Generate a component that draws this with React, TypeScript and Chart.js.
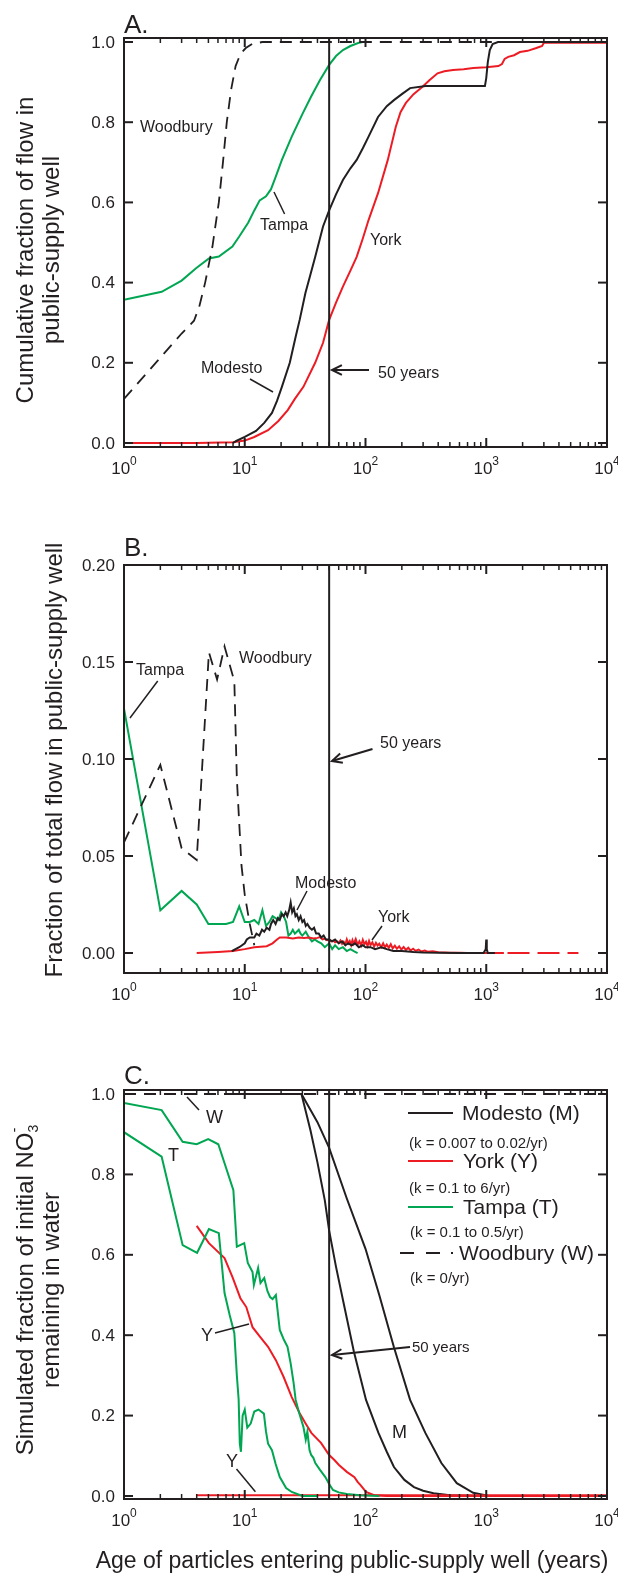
import React, { useEffect, useRef } from "react";
import { Chart, registerables } from "chart.js";
Chart.register(...registerables);

const FONT = '"Liberation Sans", Arial, Helvetica, sans-serif';
const INK = "#231f20";
const GREEN = "#00a651";
const RED = "#ed1c24";
const BLACK = "#231f20";

// ---- shared x axis ----
const xTickValues = [1, 10, 100, 1000, 10000];
const xTickExponents = ["0", "1", "2", "3", "4"];
const fiftyYears = 50;

// ---- Panel A: cumulative fraction ----
const yTicksA = [0, 0.2, 0.4, 0.6, 0.8, 1.0];
const yTickLabelsA = ["0.0", "0.2", "0.4", "0.6", "0.8", "1.0"];
const aWoodburyAge = [1, 1.5, 2, 2.5, 3, 3.8, 4.2, 4.7, 5.4, 6.1, 6.6, 7.1, 7.7, 8.4, 9.2, 10.2, 11.5, 14, 10000];
const aWoodburyVal = [0.11, 0.17, 0.213, 0.246, 0.273, 0.305, 0.34, 0.4, 0.49, 0.6, 0.7, 0.8, 0.88, 0.94, 0.97, 0.985, 0.995, 1.0, 1.0];
const aTampaAge = [1, 2.05, 3, 3.95, 5.05, 6.1, 7.9, 9, 10.7, 12, 13.3, 15, 16.5, 18.1, 20.3, 24.5, 30, 35.3, 42, 50, 57, 65, 75, 88, 95];
const aTampaVal = [0.357, 0.377, 0.405, 0.436, 0.46, 0.465, 0.49, 0.515, 0.55, 0.58, 0.605, 0.615, 0.633, 0.665, 0.706, 0.764, 0.82, 0.863, 0.905, 0.943, 0.965, 0.98, 0.99, 0.998, 1.0];
const aModestoAge = [8, 8.5, 10, 12.4, 14.5, 16.8, 18.5, 20.3, 23.6, 26.4, 28.5, 31.8, 35, 38.3, 44.5, 50, 57, 65, 75, 84.5, 95, 106, 127, 150, 172, 200, 234, 315, 500, 800, 975, 1000, 1030, 1070, 1130, 1250, 10000];
const aModestoVal = [0.0, 0.005, 0.015, 0.03, 0.05, 0.075, 0.105, 0.14, 0.2, 0.265, 0.307, 0.374, 0.42, 0.464, 0.54, 0.58, 0.62, 0.656, 0.685, 0.706, 0.735, 0.764, 0.813, 0.84, 0.855, 0.87, 0.885, 0.89, 0.89, 0.89, 0.89, 0.91, 0.95, 0.98, 0.995, 1.0, 1.0];
const aYorkAge = [1, 4, 8, 10, 12, 15.6, 19, 22.7, 26, 30.6, 38.3, 44.5, 50, 57, 65, 75, 84.5, 95, 106, 127, 153, 178, 195, 216, 250, 295, 340, 395, 450, 530, 650, 780, 1000, 1260, 1350, 1420, 1520, 1700, 1900, 2200, 2600, 2900, 3000, 10000];
const aYorkVal = [0, 0, 0.002, 0.006, 0.015, 0.032, 0.055, 0.082, 0.11, 0.14, 0.2, 0.25, 0.307, 0.35, 0.39, 0.43, 0.464, 0.51, 0.556, 0.623, 0.706, 0.788, 0.825, 0.848, 0.87, 0.888, 0.905, 0.922, 0.927, 0.93, 0.932, 0.935, 0.937, 0.94, 0.945, 0.958, 0.963, 0.967, 0.975, 0.978, 0.985, 0.99, 0.998, 0.998];

// ---- Panel B: fraction of total flow ----
const yTicksB = [0, 0.05, 0.1, 0.15, 0.2];
const yTickLabelsB = ["0.00", "0.05", "0.10", "0.15", "0.20"];
const bTampaAge = [1, 2, 3, 4, 5, 6, 7, 8, 9, 10, 11, 12, 13, 14, 15, 16, 17, 18, 19, 20, 21, 22, 23, 24, 25, 26, 27, 28, 29, 30, 32, 34, 36, 38, 40, 43, 46, 50, 53, 56, 60, 65, 70, 75, 80, 86];
const bTampaVal = [0.126, 0.022, 0.032, 0.025, 0.015, 0.015, 0.015, 0.016, 0.024, 0.016, 0.016, 0.017, 0.015, 0.022, 0.014, 0.016, 0.019, 0.018, 0.017, 0.021, 0.019, 0.016, 0.009, 0.010, 0.012, 0.010, 0.011, 0.012, 0.010, 0.009, 0.011, 0.008, 0.006, 0.007, 0.006, 0.005, 0.003, 0.005, 0.002, 0.004, 0.002, 0.003, 0.001, 0.002, 0.001, 0.0];
const bWoodburyAge = [1, 2, 3, 4, 5.05, 5.9, 6.8, 8.2, 8.6, 9.4, 10, 11, 12];
const bWoodburyVal = [0.057, 0.097, 0.054, 0.048, 0.155, 0.141, 0.158, 0.14, 0.09, 0.045, 0.03, 0.015, 0.004];
const bModestoAge = [7.8, 9, 10, 10.4, 11, 12, 12.5, 13.2, 13.9, 14.5, 15.2, 16, 16.5, 17.2, 18, 18.8, 19.5, 20.3, 21, 21.8, 22.5, 23.3, 24, 24.7, 25.5, 26.3, 27, 28, 29, 30, 31, 32, 33, 34.5, 36, 37.5, 39, 41, 43, 45, 47, 50, 53, 56, 60, 64, 68, 72, 77, 82, 88, 95, 100, 110, 120, 135, 150, 170, 200, 250, 300, 400, 600, 950, 990, 1000, 1010, 1030, 1180];
const bModestoVal = [0.001, 0.003, 0.005, 0.007, 0.008, 0.008, 0.010, 0.009, 0.012, 0.011, 0.013, 0.012, 0.015, 0.017, 0.015, 0.018, 0.017, 0.020, 0.019, 0.021, 0.019, 0.022, 0.026, 0.021, 0.023, 0.019, 0.020, 0.017, 0.019, 0.016, 0.017, 0.014, 0.015, 0.013, 0.012, 0.013, 0.010, 0.010, 0.008, 0.009, 0.007, 0.007, 0.006, 0.007, 0.005, 0.006, 0.004, 0.005, 0.004, 0.005, 0.003, 0.004, 0.003, 0.003, 0.002, 0.003, 0.002, 0.001, 0.001, 0.0005, 0.0003, 0.0002, 0.0, 0.0, 0.002, 0.007, 0.002, 0.0, 0.0];
const bYorkAge = [4, 6, 8, 10, 12, 15.2, 17, 18.5, 19.5, 22, 25, 28, 31, 34, 37,
  40, 42, 44, 46, 48, 50, 52, 54, 56, 58, 60, 62, 64, 66, 68, 70, 72, 74, 76, 78,
  80, 83, 86, 89, 92, 95, 98, 101, 104, 107, 110, 114, 118, 122, 126, 130, 135, 140, 145, 150,
  156, 162, 168, 175, 182, 190, 198, 207, 216, 226, 236, 248, 260, 275, 290, 310, 330, 360, 400, 450,
  500, 600, 700, 1400];
const bYorkVal = [0, 0.0005, 0.001, 0.002, 0.003, 0.0035, 0.005, 0.007, 0.008, 0.008, 0.0075, 0.008, 0.0078, 0.008, 0.0075,
  0.0078, 0.0082, 0.0070, 0.0074, 0.0066, 0.0068, 0.0060, 0.0064, 0.0055, 0.0060, 0.0052, 0.0065, 0.0047, 0.0058, 0.0044, 0.0070, 0.0050, 0.0062, 0.0041, 0.0066,
  0.0048, 0.0072, 0.0043, 0.0060, 0.0039, 0.0068, 0.0045, 0.0058, 0.0036, 0.0062, 0.0041, 0.0055, 0.0033, 0.0052, 0.0038, 0.0048, 0.0030, 0.0050, 0.0029, 0.0043,
  0.0027, 0.0045, 0.0024, 0.0038, 0.0022, 0.0034, 0.0018, 0.0031, 0.0016, 0.0027, 0.0013, 0.0022, 0.0011, 0.0018, 0.0008, 0.0013, 0.0006, 0.0009, 0.0004, 0.0003,
  0.0002, 0.0001, 0.0, 0.0];
const bYorkTailAge = [1500, 5800];
const bYorkTailVal = [0.0, 0.0];

// ---- Panel C: fraction of initial NO3 remaining ----
const yTicksC = [0, 0.2, 0.4, 0.6, 0.8, 1.0];
const yTickLabelsC = ["0.0", "0.2", "0.4", "0.6", "0.8", "1.0"];
const cWoodburyAge = [1, 10000];
const cWoodburyVal = [1.0, 1.0];
const cModestoFastAge = [8, 29.5, 35, 40, 46, 50, 57, 65, 80, 101, 128, 150, 172, 210, 252, 300, 366, 500, 780, 3000];
const cModestoFastVal = [1.0, 1.0, 0.91, 0.83, 0.736, 0.66, 0.57, 0.488, 0.36, 0.239, 0.157, 0.11, 0.072, 0.04, 0.022, 0.013, 0.007, 0.002, 0.0, 0.0];
const cModestoSlowAge = [8, 29.5, 40, 50, 70, 100, 130, 172, 234, 313, 425, 570, 780, 1050, 3000];
const cModestoSlowVal = [1.0, 1.0, 0.93, 0.866, 0.74, 0.615, 0.5, 0.37, 0.239, 0.157, 0.082, 0.032, 0.008, 0.0, 0.0];
const cTampaSlowAge = [1, 2.05, 3.06, 4, 4.98, 6.04, 8.05, 8.6, 9.9, 10.6, 11.6, 11.9, 12.9, 13.5, 14.5, 15.4, 16.2, 17, 18.1, 19.5, 21, 22.6, 24, 25.4, 26.4, 28, 30.6, 32, 33, 34.4, 35.5, 37, 38.4, 42, 46.5, 50, 53.8, 60, 70, 90, 130];
const cTampaSlowVal = [0.978, 0.96, 0.881, 0.875, 0.888, 0.875, 0.761, 0.62, 0.629, 0.58, 0.557, 0.525, 0.567, 0.53, 0.542, 0.51, 0.495, 0.49, 0.5, 0.413, 0.39, 0.371, 0.33, 0.281, 0.239, 0.21, 0.172, 0.14, 0.16, 0.114, 0.102, 0.095, 0.082, 0.065, 0.047, 0.03, 0.015, 0.009, 0.005, 0.002, 0.0];
const cTampaFastAge = [1, 2.05, 3.06, 4.03, 5.05, 6.1, 6.8, 7.5, 8.2, 8.6, 8.9, 9.1, 9.3, 9.6, 10, 10.5, 11.2, 12, 13, 14.4, 15, 15.6, 16.8, 18, 19.5, 22, 24.5, 30, 40];
const cTampaFastVal = [0.905, 0.844, 0.624, 0.605, 0.664, 0.654, 0.505, 0.45, 0.405, 0.3, 0.24, 0.13, 0.11, 0.2, 0.215, 0.17, 0.18, 0.21, 0.215, 0.205, 0.16, 0.13, 0.114, 0.08, 0.047, 0.02, 0.01, 0.0, 0.0];
const cYorkSlowAge = [4, 5.05, 6.8, 7.9, 9.2, 10.3, 11.6, 13.4, 15.6, 18.1, 21, 24.5, 28.5, 32, 35.6, 42.8, 50, 55, 60.3, 70, 81, 86, 91, 101, 118, 150, 10000];
const cYorkSlowVal = [0.672, 0.629, 0.592, 0.545, 0.492, 0.47, 0.42, 0.396, 0.371, 0.338, 0.296, 0.246, 0.206, 0.18, 0.157, 0.132, 0.102, 0.09, 0.077, 0.06, 0.047, 0.035, 0.027, 0.01, 0.002, 0.0, 0.0];
const cYorkFastAge = [4, 10000];
const cYorkFastVal = [0.002, 0.002];

const pts = (ages: number[], vals: number[]) => ages.map((x, i) => ({ x, y: vals[i] }));

const line = (label: string, ages: number[], vals: number[], color: string, dash: number[] = [], width = 2) => ({
  label,
  data: pts(ages, vals),
  borderColor: color,
  backgroundColor: color,
  borderWidth: width,
  borderDash: dash,
  pointRadius: 0,
  fill: false,
  tension: 0,
});

// ---- drawing helpers ----
function seg(ctx: any, x1: number, y1: number, x2: number, y2: number, w = 1.5) {
  ctx.save();
  ctx.strokeStyle = INK;
  ctx.lineWidth = w;
  ctx.beginPath();
  ctx.moveTo(x1, y1);
  ctx.lineTo(x2, y2);
  ctx.stroke();
  ctx.restore();
}
function txt(ctx: any, s: string, x: number, y: number, size: number, align = "left", base = "middle", color = INK) {
  ctx.save();
  ctx.fillStyle = color;
  ctx.font = `${size}px ${FONT}`;
  ctx.textAlign = align;
  ctx.textBaseline = base;
  ctx.fillText(s, x, y);
  ctx.restore();
}
function arrow(ctx: any, x1: number, y1: number, x2: number, y2: number) {
  seg(ctx, x1, y1, x2, y2, 2);
  const ang = Math.atan2(y2 - y1, x2 - x1);
  const L = 11, spread = 0.45;
  ctx.save();
  ctx.strokeStyle = INK;
  ctx.lineWidth = 2;
  ctx.beginPath();
  ctx.moveTo(x2 - L * Math.cos(ang - spread), y2 - L * Math.sin(ang - spread));
  ctx.lineTo(x2, y2);
  ctx.lineTo(x2 - L * Math.cos(ang + spread), y2 - L * Math.sin(ang + spread));
  ctx.stroke();
  ctx.restore();
}
type Part = { t: string; size: number; dy: number; stack?: boolean };
function rotRich(ctx: any, parts: Part[], x: number, yc: number) {
  ctx.save();
  ctx.translate(x, yc);
  ctx.rotate(-Math.PI / 2);
  ctx.fillStyle = INK;
  ctx.textAlign = "left";
  ctx.textBaseline = "alphabetic";
  let total = 0;
  const widths = parts.map((p) => {
    ctx.font = `${p.size}px ${FONT}`;
    return ctx.measureText(p.t).width;
  });
  parts.forEach((p, i) => { if (!p.stack) total += widths[i]; });
  let u = -total / 2;
  let lastU = u;
  parts.forEach((p, i) => {
    ctx.font = `${p.size}px ${FONT}`;
    if (p.stack) {
      ctx.fillText(p.t, lastU, p.dy);
    } else {
      ctx.fillText(p.t, u, p.dy);
      lastU = u;
      u += widths[i];
    }
  });
  ctx.restore();
}

function drawFrame(chart: any, yTicks: number[], yLabels: string[]) {
  const ctx = chart.ctx;
  const a = chart.chartArea;
  const xs = chart.scales.x;
  const ys = chart.scales.y;
  const x50 = xs.getPixelForValue(fiftyYears);
  seg(ctx, x50, a.top, x50, a.bottom, 2);
  ctx.save();
  ctx.strokeStyle = INK;
  ctx.lineWidth = 2;
  ctx.strokeRect(a.left, a.top, a.right - a.left, a.bottom - a.top);
  ctx.restore();
  for (let d = 0; d < 4; d++) {
    for (let m = 1; m <= 9; m++) {
      const v = m * Math.pow(10, d);
      const px = xs.getPixelForValue(v);
      const len = m === 1 ? 9 : 5;
      const w = m === 1 ? 2 : 1.5;
      seg(ctx, px, a.bottom, px, a.bottom - len, w);
      seg(ctx, px, a.top, px, a.top + len, w);
    }
  }
  xTickValues.forEach((v, i) => {
    const px = xs.getPixelForValue(v);
    ctx.save();
    ctx.font = `17px ${FONT}`;
    const w10 = ctx.measureText("10").width;
    ctx.font = `12px ${FONT}`;
    const we = ctx.measureText(xTickExponents[i]).width;
    ctx.restore();
    const start = px - (w10 + we) / 2;
    txt(ctx, "10", start, a.bottom + 27, 17, "left", "alphabetic");
    txt(ctx, xTickExponents[i], start + w10, a.bottom + 18, 12, "left", "alphabetic");
  });
  yTicks.forEach((v, i) => {
    const py = ys.getPixelForValue(v);
    seg(ctx, a.left, py, a.left + 9, py, 2);
    seg(ctx, a.right, py, a.right - 9, py, 2);
    txt(ctx, yLabels[i], a.left - 9, py + 1, 17, "right", "middle");
  });
}

type PanelProps = {
  top: number;
  height: number;
  plotTop: number;
  plotBottom: number;
  yMin: number;
  yMax: number;
  yTicks: number[];
  yLabels: string[];
  makeDatasets: () => any[];
  decorate: (ctx: any, chart: any) => void;
};

function Panel(props: PanelProps) {
  const ref = useRef<HTMLCanvasElement>(null);
  useEffect(() => {
    const canvas = ref.current as HTMLCanvasElement;
    const { top, height, plotTop, plotBottom } = props;
    const deco = {
      id: "deco",
      afterDraw(chart: any) {
        drawFrame(chart, props.yTicks, props.yLabels);
        const ctx = chart.ctx;
        ctx.save();
        ctx.translate(0, -top);
        props.decorate(ctx, chart);
        ctx.restore();
      },
    };
    const chart = new Chart(canvas, {
      type: "line",
      data: { datasets: props.makeDatasets() },
      options: {
        animation: false,
        responsive: false,
        maintainAspectRatio: false,
        devicePixelRatio: 1,
        events: [],
        layout: {
          padding: { left: 124, right: 618 - 607, top: plotTop - top, bottom: top + height - plotBottom },
        },
        scales: {
          x: { type: "logarithmic", min: 1, max: 10000, display: false },
          y: { type: "linear", min: props.yMin, max: props.yMax, display: false },
        },
        plugins: { legend: { display: false }, tooltip: { enabled: false } },
      },
      plugins: [deco],
    } as any);
    return () => chart.destroy();
  }, []);
  return (
    <canvas
      ref={ref}
      width={618}
      height={props.height}
      style={{ position: "absolute", left: 0, top: props.top, width: 618, height: props.height }}
    />
  );
}

const decoA = (ctx: any) => {
  txt(ctx, "A.", 124, 33, 26, "left", "alphabetic");
  rotRich(ctx, [{ t: "Cumulative fraction of flow in", size: 24, dy: 0 }], 33, 250);
  rotRich(ctx, [{ t: "public-supply well", size: 24, dy: 0 }], 59, 250);
  txt(ctx, "Woodbury", 140, 128, 16);
  txt(ctx, "Tampa", 260, 226, 16);
  seg(ctx, 274, 192, 284.6, 214);
  txt(ctx, "York", 370, 241, 16);
  txt(ctx, "Modesto", 201, 369, 16);
  seg(ctx, 250, 379, 273, 392);
  txt(ctx, "50 years", 378, 374, 16);
  arrow(ctx, 369, 370, 332, 370);
};

const decoB = (ctx: any) => {
  txt(ctx, "B.", 124, 556, 26, "left", "alphabetic");
  rotRich(ctx, [{ t: "Fraction of total flow in public-supply well", size: 24, dy: 0 }], 62, 760);
  txt(ctx, "Tampa", 136, 671, 16);
  seg(ctx, 157.7, 681, 130, 718);
  txt(ctx, "Woodbury", 239, 659, 16);
  txt(ctx, "50 years", 380, 744, 16);
  arrow(ctx, 372.5, 749, 332, 761);
  txt(ctx, "Modesto", 295, 884, 16);
  seg(ctx, 307, 891, 297, 910);
  txt(ctx, "York", 378, 918, 16);
  seg(ctx, 382, 926, 372, 940);
};

const decoC = (ctx: any) => {
  txt(ctx, "C.", 124, 1084, 26, "left", "alphabetic");
  rotRich(
    ctx,
    [
      { t: "Simulated fraction of initial NO", size: 24, dy: 0 },
      { t: "3", size: 14, dy: 5 },
      { t: "-", size: 15, dy: -14, stack: true },
    ],
    33,
    1290
  );
  rotRich(ctx, [{ t: "remaining in water", size: 24, dy: 0 }], 59, 1290);
  txt(ctx, "W", 206, 1118, 18);
  seg(ctx, 187, 1097, 199, 1110);
  txt(ctx, "T", 168, 1156, 18);
  txt(ctx, "Y", 201, 1336, 18);
  seg(ctx, 215, 1333, 249, 1324);
  txt(ctx, "Y", 226, 1462, 18);
  seg(ctx, 236.5, 1469, 255.4, 1491.7);
  txt(ctx, "M", 392, 1433, 18);
  txt(ctx, "50 years", 412, 1348, 15);
  arrow(ctx, 410, 1347, 332, 1355);
  const lx1 = 408, lx2 = 453;
  ctx.save();
  ctx.lineWidth = 2;
  ctx.strokeStyle = BLACK;
  ctx.beginPath(); ctx.moveTo(lx1, 1113); ctx.lineTo(lx2, 1113); ctx.stroke();
  ctx.strokeStyle = RED;
  ctx.beginPath(); ctx.moveTo(lx1, 1161); ctx.lineTo(lx2, 1161); ctx.stroke();
  ctx.strokeStyle = GREEN;
  ctx.beginPath(); ctx.moveTo(lx1, 1207); ctx.lineTo(lx2, 1207); ctx.stroke();
  ctx.strokeStyle = BLACK;
  ctx.beginPath(); ctx.moveTo(400, 1253); ctx.lineTo(414, 1253); ctx.stroke();
  ctx.beginPath(); ctx.moveTo(426, 1253); ctx.lineTo(440, 1253); ctx.stroke();
  ctx.beginPath(); ctx.moveTo(451, 1253); ctx.lineTo(453, 1253); ctx.stroke();
  ctx.restore();
  txt(ctx, "Modesto (M)", 462, 1114, 21);
  txt(ctx, "(k = 0.007 to 0.02/yr)", 409, 1144, 15);
  txt(ctx, "York (Y)", 463, 1162, 21);
  txt(ctx, "(k = 0.1 to 6/yr)", 409, 1189, 15);
  txt(ctx, "Tampa (T)", 463, 1208, 21);
  txt(ctx, "(k = 0.1 to 0.5/yr)", 410, 1233, 15);
  txt(ctx, "Woodbury (W)", 459, 1254, 21);
  txt(ctx, "(k = 0/yr)", 410, 1279, 15);
  txt(ctx, "Age of particles entering public-supply well (years)", 352, 1562, 23, "center", "middle");
};

export default function App() {
  return (
    <div style={{ position: "absolute", left: 0, top: 0, width: 618, height: 1575, overflow: "hidden", background: "#fff" }}>
      <Panel
        top={0}
        height={520}
        plotTop={38}
        plotBottom={447}
        yMin={-0.01}
        yMax={1.01}
        yTicks={yTicksA}
        yLabels={yTickLabelsA}
        makeDatasets={() => [
          line("Woodbury", aWoodburyAge, aWoodburyVal, BLACK, [12, 8], 1.8),
          line("Modesto", aModestoAge, aModestoVal, BLACK),
          line("Tampa", aTampaAge, aTampaVal, GREEN),
          line("York", aYorkAge, aYorkVal, RED),
        ]}
        decorate={decoA}
      />
      <Panel
        top={520}
        height={520}
        plotTop={565}
        plotBottom={973}
        yMin={-0.0103}
        yMax={0.2}
        yTicks={yTicksB}
        yLabels={yTickLabelsB}
        makeDatasets={() => [
          line("Woodbury", bWoodburyAge, bWoodburyVal, BLACK, [12, 8], 1.8),
          line("Modesto", bModestoAge, bModestoVal, BLACK),
          line("York", bYorkAge, bYorkVal, RED),
          line("York tail", bYorkTailAge, bYorkTailVal, RED, [22, 8]),
          line("Tampa", bTampaAge, bTampaVal, GREEN),
        ]}
        decorate={decoB}
      />
      <Panel
        top={1040}
        height={535}
        plotTop={1090}
        plotBottom={1499}
        yMin={-0.0075}
        yMax={1.01}
        yTicks={yTicksC}
        yLabels={yTickLabelsC}
        makeDatasets={() => [
          line("Woodbury", cWoodburyAge, cWoodburyVal, BLACK, [12, 8], 1.8),
          line("Tampa slow", cTampaSlowAge, cTampaSlowVal, GREEN),
          line("Tampa fast", cTampaFastAge, cTampaFastVal, GREEN),
          line("York slow", cYorkSlowAge, cYorkSlowVal, RED),
          line("York fast", cYorkFastAge, cYorkFastVal, RED),
          line("Modesto fast", cModestoFastAge, cModestoFastVal, BLACK),
          line("Modesto slow", cModestoSlowAge, cModestoSlowVal, BLACK),
        ]}
        decorate={decoC}
      />
    </div>
  );
}
